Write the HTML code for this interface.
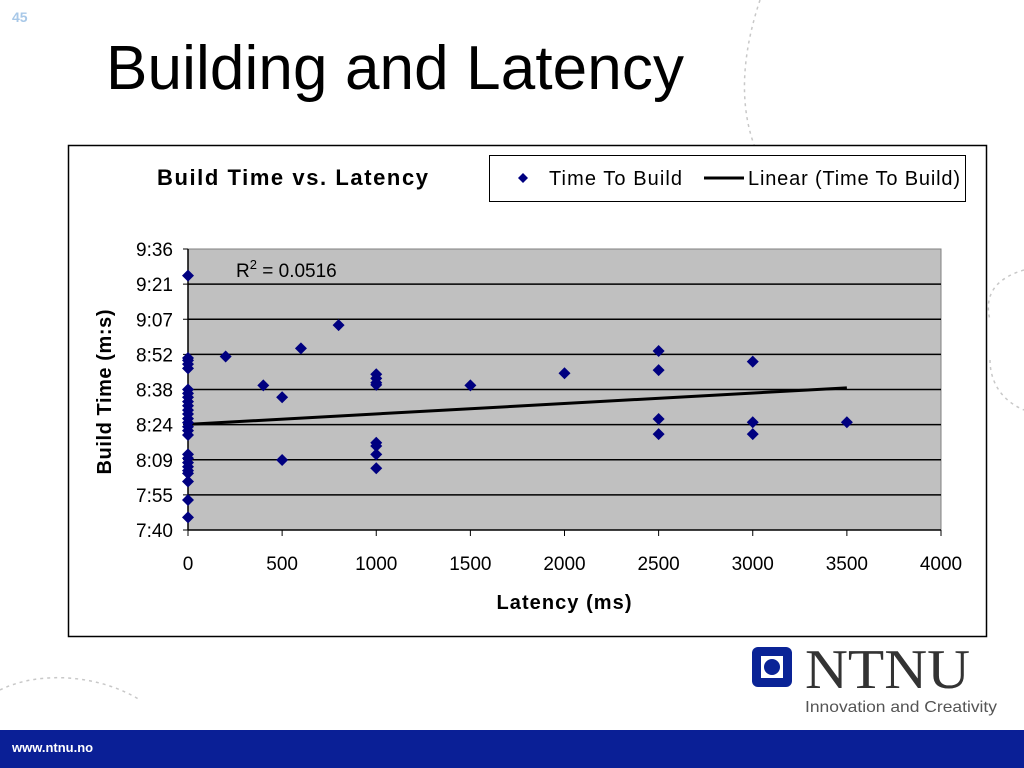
<!DOCTYPE html>
<html><head><meta charset="utf-8"><style>
body{margin:0;width:1024px;height:768px;overflow:hidden;background:#fff;font-family:"Liberation Sans",sans-serif;position:relative}
</style></head><body>
<svg width="1024" height="768" style="position:absolute;left:0;top:0">
<g fill="none" stroke="#c8c8c8" stroke-width="1.5" stroke-dasharray="3,4">
<path d="M760,0 C740,60 740,110 756,150"/>
<path d="M1024,270 C990,280 985,300 990,320"/>
<path d="M990,360 C990,380 1000,400 1024,410"/>
<path d="M0,690 C40,670 100,675 140,700"/>
<path d="M150,735 C160,745 165,755 168,768"/>
</g>
<text x="12" y="22" font-size="14" font-weight="bold" fill="#a8c8e8">45</text>
<text x="106" y="89" font-size="62" fill="#000" textLength="578">Building and Latency</text>
<rect x="68.5" y="145.5" width="918" height="491" fill="#fff" stroke="#000" stroke-width="1.5"/>
<text x="157" y="185" font-size="22" font-weight="bold" textLength="271">Build Time vs. Latency</text>
<g>
<rect x="489.5" y="155.5" width="476" height="46" fill="#fff" stroke="#000" stroke-width="1"/>
<path d="M523,173 l5,5 l-5,5 l-5,-5z" fill="#000080"/>
<text x="549" y="185" font-size="20" textLength="133">Time To Build</text>
<line x1="704" y1="178" x2="744" y2="178" stroke="#000" stroke-width="3"/>
<text x="748" y="185" font-size="20" textLength="212">Linear (Time To Build)</text>
</g>
<g id="plot"></g>
<text transform="translate(111,392) rotate(-90)" text-anchor="middle" font-size="20" font-weight="bold" textLength="165">Build Time (m:s)</text>
<text x="564" y="609" text-anchor="middle" font-size="20" font-weight="bold" textLength="135">Latency (ms)</text>
<g>
<rect x="752" y="647" width="40" height="40" rx="6" fill="#0a2396"/>
<rect x="761" y="656" width="22" height="22" fill="#fff"/>
<circle cx="772" cy="667" r="8" fill="#0a2396"/>
<text x="805" y="688" font-family="Liberation Serif,serif" font-size="56" fill="#333" textLength="165" lengthAdjust="spacingAndGlyphs">NTNU</text>
<text x="805" y="712" font-size="16" fill="#555" textLength="192" lengthAdjust="spacingAndGlyphs">Innovation and Creativity</text>
</g>
<rect x="0" y="730" width="1024" height="38" fill="#0a1f96"/>
<text x="12" y="752" font-size="13" font-weight="bold" fill="#fff">www.ntnu.no</text>
</svg>
<script>
const latency=[0,0,0,0,0,0,0,0,0,0,0,0,0,0,0,0,0,0,0,0,0,0,0,0,0,0,200,400,500,500,600,800,1000,1000,1000,1000,1000,1000,1000,1000,1500,2000,2500,2500,2500,2500,3000,3000,3000,3500];
const buildSec=[565,531,530,528.5,526.7,518,516.4,514.8,513,511.3,509.5,507.9,506,504.3,502.6,501,499.2,491.2,489.6,487.8,486.1,484.5,483.4,480,472.4,465.2,531.6,519.7,514.8,488.9,535,544.6,524.3,522.6,520.8,519.9,496,494.7,491.2,485.5,519.7,524.7,533.9,526,505.8,499.6,529.5,504.5,499.6,504.5];
const trendIntercept=503.6;
const trendSlope=0.00431;
const xTicks=[0,500,1000,1500,2000,2500,3000,3500,4000];
const yTickLabels=["7:40","7:55","8:09","8:24","8:38","8:52","9:07","9:21","9:36"];
const yMin=460,yMax=576,xMax=4000;
const L=188,R=941,T=249,B=530;
const xs=v=>L+v/xMax*(R-L);
const ys=v=>B-(v-yMin)/(yMax-yMin)*(B-T);
const NS="http://www.w3.org/2000/svg";
const g=document.getElementById('plot');
function mk(t,a){const e=document.createElementNS(NS,t);for(const k in a)e.setAttribute(k,a[k]);g.appendChild(e);return e;}
const bg=mk('rect',{x:L,y:T,width:R-L,height:B-T,fill:'#c0c0c0',stroke:'#808080'});


yTickLabels.forEach((lab,i)=>{
  const v=yMin+i*(yMax-yMin)/(yTickLabels.length-1);const y=ys(v);
  if(i>0&&i<yTickLabels.length-1){const gl=mk('line',{x1:L,y1:y,x2:R,y2:y,stroke:'#000','stroke-width':1.5});
  
  }
  mk('line',{x1:L-5,y1:y,x2:L,y2:y,stroke:'#000'});
  const t=mk('text',{x:L-15,y:y+7,'text-anchor':'end','font-size':19});t.textContent=lab;
  
  
});
mk('line',{x1:L,y1:T,x2:L,y2:B,stroke:'#000','stroke-width':1.5});
mk('line',{x1:L,y1:B,x2:R,y2:B,stroke:'#000','stroke-width':1.5});
xTicks.forEach(v=>{const x=xs(v);mk('line',{x1:x,y1:B,x2:x,y2:B+6,stroke:'#000'});
  const t=mk('text',{x:x,y:B+40,'text-anchor':'middle','font-size':19});t.textContent=v;
  
  });
const xmaxData=Math.max(...latency);
const tl=mk('line',{x1:xs(0),y1:ys(trendIntercept),x2:xs(xmaxData),y2:ys(trendIntercept+trendSlope*xmaxData),stroke:'#000','stroke-width':3});


latency.forEach((lv,i)=>{const x=xs(lv),y=ys(buildSec[i]);
  const p=mk('path',{d:`M${x},${y-6}l6,6l-6,6l-6,-6z`,fill:'#000080'});
  
  });
const r=mk('text',{x:236,y:277,'font-size':19});
r.innerHTML='R<tspan dy="-8" font-size="13">2</tspan><tspan dy="8"> = 0.0516</tspan>';


</script>
</body></html>
